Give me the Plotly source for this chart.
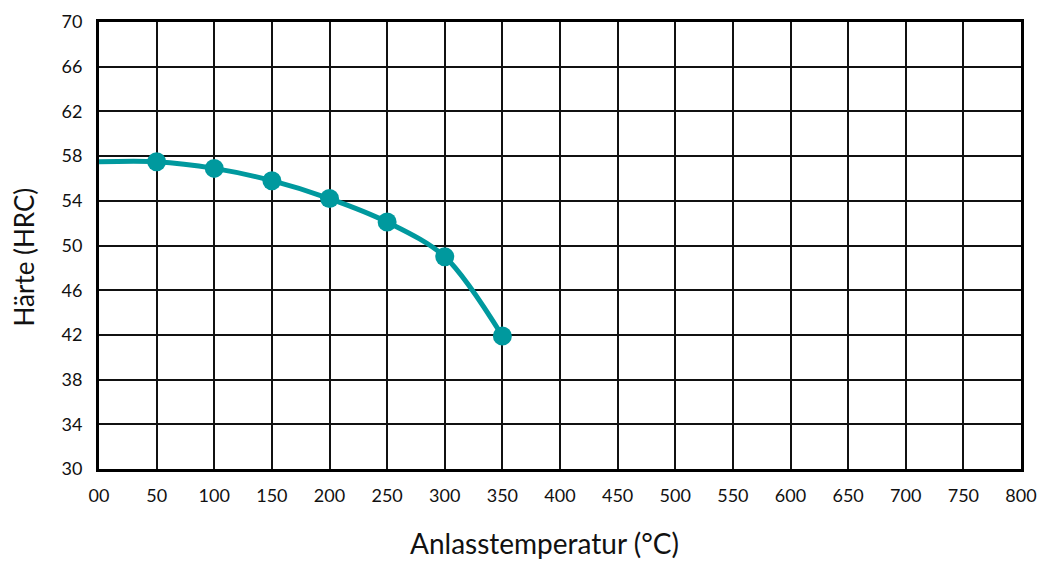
import plotly.graph_objects as go

# Anlasskurve: Härte über Anlasstemperatur
temp_line = [0, 50, 100, 150, 200, 250, 300, 350]
hrc_line = [57.5, 57.5, 56.9, 55.8, 54.2, 52.1, 49.0, 41.9]

temp_pts = [50, 100, 150, 200, 250, 300, 350]
hrc_pts = [57.5, 56.9, 55.8, 54.2, 52.1, 49.0, 41.9]

x_ticks = list(range(0, 801, 50))
x_labels = ["00"] + [str(v) for v in x_ticks[1:]]
y_ticks = list(range(30, 71, 4))

teal = "#00999e"

fig = go.Figure()
fig.add_trace(go.Scatter(
    x=temp_line, y=hrc_line, mode="lines",
    line=dict(color=teal, width=5, shape="spline", smoothing=0.9),
    hoverinfo="skip", showlegend=False,
))
fig.add_trace(go.Scatter(
    x=temp_pts, y=hrc_pts, mode="markers",
    marker=dict(color=teal, size=19),
    showlegend=False,
))

fig.update_xaxes(
    range=[0, 800], tickvals=x_ticks, ticktext=x_labels,
    showgrid=True, gridcolor="#111", gridwidth=1.5,
    showline=True, linecolor="black", linewidth=3, mirror=True,
    zeroline=False, ticks="", ticklabelstandoff=8, automargin=False,
    tickfont=dict(size=18, color="#111"),
)
fig.update_yaxes(
    range=[30, 70], tickvals=y_ticks,
    showgrid=True, gridcolor="#111", gridwidth=1.5,
    showline=True, linecolor="black", linewidth=3, mirror=True,
    zeroline=False, ticks="", ticklabelstandoff=10, automargin=False,
    tickfont=dict(size=18, color="#111"),
)

# axis titles as annotations (sit a bit off-centre in the original)
fig.add_annotation(
    text="Anlasstemperatur (°C)", xref="paper", yref="paper",
    x=0.483, y=-0.166, xanchor="center", yanchor="middle",
    showarrow=False, font=dict(size=28, color="#111"),
)
fig.add_annotation(
    text="Härte (HRC)", xref="paper", yref="paper",
    x=-0.081, y=0.474, xanchor="center", yanchor="middle", textangle=-90,
    showarrow=False, font=dict(size=26, color="#111"),
)

fig.update_layout(
    width=1048, height=575,
    margin=dict(l=91, r=35, t=14, b=114),
    paper_bgcolor="white", plot_bgcolor="white",
    font=dict(family="Lato, 'Noto Sans', sans-serif"),
)

fig.write_html("out.html")
